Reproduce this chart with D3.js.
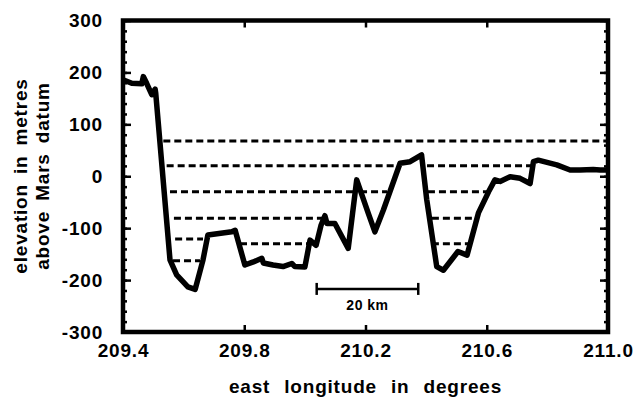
<!DOCTYPE html>
<html>
<head>
<meta charset="utf-8">
<script src="https://cdn.jsdelivr.net/npm/d3@7/dist/d3.min.js"></script>
<style>
  html, body { margin: 0; padding: 0; background: #fff; }
  svg { display: block; font-family: "Liberation Sans", Arial, Helvetica, sans-serif; }
  .tick text { font-weight: bold; font-size: 19px; letter-spacing: 0.8px; fill: #000; }
</style>
</head>
<body>
<svg id="chart" width="639" height="405"></svg>
<script>
// Topographic profile: east longitude (degrees) vs elevation (m above Mars datum)
const longitude = [
  209.400, 209.429, 209.462, 209.467, 209.478, 209.495, 209.506, 209.508,
  209.555, 209.577, 209.614, 209.638, 209.664, 209.680, 209.759, 209.770,
  209.802, 209.830, 209.858, 209.863, 209.895, 209.928, 209.957, 209.967,
  210.000, 210.017, 210.037, 210.053, 210.066, 210.073, 210.099, 210.143,
  210.171, 210.209, 210.231, 210.259, 210.314, 210.347, 210.385, 210.402,
  210.435, 210.457, 210.505, 210.535, 210.573, 210.606, 210.627, 210.644,
  210.677, 210.710, 210.743, 210.754, 210.770, 210.831, 210.875, 210.908,
  210.951, 210.974, 211.000
];
const elevation = [
  186, 179, 178, 192, 179, 157, 168, 160,
  -161, -190, -213, -218, -161, -113, -107, -104,
  -171, -165, -158, -167, -171, -174, -168, -174,
  -175, -123, -133, -95, -76, -91, -91, -139,
  -7, -71, -107, -65, 25, 28, 41, -45,
  -174, -181, -145, -152, -70, -30, -7, -10,
  -1, -4, -14, 28, 31, 22, 12, 12,
  13, 12, 12
];

// Dashed water levels: level (m) with start / end longitudes of each run
const levelElevation = [68, 20, 20, -30, -30, -30, -81, -81, -121, -130, -130, -163];
const levelStart = [209.533, 209.544, 210.403, 209.555, 210.182, 210.406, 209.568, 210.419, 209.572, 209.786, 210.419, 209.565];
const levelEnd   = [211.000, 210.314, 210.753, 210.169, 210.271, 210.608, 210.057, 210.571, 209.664, 210.010, 210.545, 209.654];

const xTicks = [209.4, 209.8, 210.2, 210.6, 211.0];
const yTicks = [300, 200, 100, 0, -100, -200, -300];
const scaleBarKm = 20;
const scaleBarStart = 210.039, scaleBarEnd = 210.374, scaleBarElev = -217;

const svg = d3.select("#chart");
const plotLeft = 123, plotRight = 608, plotTop = 20.5, plotBottom = 332;

const x = d3.scaleLinear().domain([209.4, 211.0]).range([plotLeft, plotRight]);
const y = d3.scaleLinear().domain([-300, 300]).range([plotBottom, plotTop]);

const minor = d3.range(-300, 301, 20);

// x axis (bottom labels, inward ticks top and bottom)
const xb = svg.append("g").attr("transform", `translate(0,${plotBottom})`)
  .call(d3.axisBottom(x).tickValues(xTicks).tickFormat(d => d.toFixed(1)).tickSizeInner(-7).tickSizeOuter(0).tickPadding(12));
xb.select(".domain").remove();
xb.selectAll(".tick line").attr("stroke-width", 2.5).filter(d => d === 209.4 || d === 211.0).remove();

const xt = svg.append("g").attr("transform", `translate(0,${plotTop})`)
  .call(d3.axisTop(x).tickValues(xTicks.slice(1, -1)).tickFormat("").tickSizeInner(-7).tickSizeOuter(0));
xt.select(".domain").remove();
xt.selectAll(".tick line").attr("stroke-width", 2.5);

// y axis labels + major ticks
const yl = svg.append("g").attr("transform", `translate(${plotLeft},0)`)
  .call(d3.axisLeft(y).tickValues(yTicks).tickFormat(d => String(d)).tickSizeInner(-8).tickSizeOuter(0).tickPadding(20));
yl.select(".domain").remove();
yl.selectAll(".tick line").attr("stroke-width", 2.5);

// minor y ticks on both sides
const ylm = svg.append("g").attr("transform", `translate(${plotLeft},0)`)
  .call(d3.axisLeft(y).tickValues(minor).tickFormat("").tickSizeInner(-4).tickSizeOuter(0));
ylm.select(".domain").remove();
ylm.selectAll(".tick line").attr("stroke-width", 2.5);

const yr = svg.append("g").attr("transform", `translate(${plotRight},0)`)
  .call(d3.axisRight(y).tickValues(yTicks).tickFormat("").tickSizeInner(-8).tickSizeOuter(0));
yr.select(".domain").remove();
yr.selectAll(".tick line").attr("stroke-width", 2.5);
const yrm = svg.append("g").attr("transform", `translate(${plotRight},0)`)
  .call(d3.axisRight(y).tickValues(minor).tickFormat("").tickSizeInner(-4).tickSizeOuter(0));
yrm.select(".domain").remove();
yrm.selectAll(".tick line").attr("stroke-width", 2.5);

// dashed levels
svg.append("g").selectAll("line").data(levelElevation).join("line")
  .attr("x1", (d, i) => x(levelStart[i]))
  .attr("x2", (d, i) => x(levelEnd[i]))
  .attr("y1", d => y(d)).attr("y2", d => y(d))
  .attr("stroke", "#000").attr("stroke-width", 3)
  .attr("stroke-dasharray", "7,4");

// profile
const pts = longitude.map((d, i) => [d, elevation[i]]);
svg.append("path").datum(pts)
  .attr("fill", "none").attr("stroke", "#000").attr("stroke-width", 5.5)
  .attr("stroke-linejoin", "round")
  .attr("d", d3.line().x(d => x(d[0])).y(d => y(d[1])));

// frame
svg.append("rect").attr("x", plotLeft).attr("y", plotTop)
  .attr("width", plotRight - plotLeft).attr("height", plotBottom - plotTop)
  .attr("fill", "none").attr("stroke", "#000").attr("stroke-width", 4.5);

// scale bar
const sb = svg.append("g").attr("stroke", "#000").attr("stroke-width", 2.5);
sb.append("line").attr("x1", x(scaleBarStart)).attr("x2", x(scaleBarEnd))
  .attr("y1", y(scaleBarElev)).attr("y2", y(scaleBarElev));
[scaleBarStart, scaleBarEnd].forEach(v => sb.append("line")
  .attr("x1", x(v)).attr("x2", x(v))
  .attr("y1", y(scaleBarElev) - 6).attr("y2", y(scaleBarElev) + 6));
svg.append("text").attr("x", x((scaleBarStart + scaleBarEnd) / 2)).attr("y", y(scaleBarElev) + 21)
  .attr("text-anchor", "middle").attr("font-weight", "bold").attr("font-size", 14)
  .attr("letter-spacing", 0.5)
  .text(`${scaleBarKm} km`);

// axis titles
svg.append("text").attr("x", (plotLeft + plotRight) / 2).attr("y", 393)
  .attr("text-anchor", "middle").attr("font-weight", "bold").attr("font-size", 19)
  .attr("letter-spacing", 0.8).attr("word-spacing", 8)
  .text("east longitude in degrees");

const yTitle = svg.append("text").attr("transform", "translate(0,176) rotate(-90)")
  .attr("text-anchor", "middle").attr("font-weight", "bold").attr("font-size", 19)
  .attr("letter-spacing", 0.8).attr("word-spacing", 4);
yTitle.append("tspan").attr("x", 0).attr("y", 27).text("elevation in metres");
yTitle.append("tspan").attr("x", 0).attr("y", 49).text("above Mars datum");
</script>
</body>
</html>
